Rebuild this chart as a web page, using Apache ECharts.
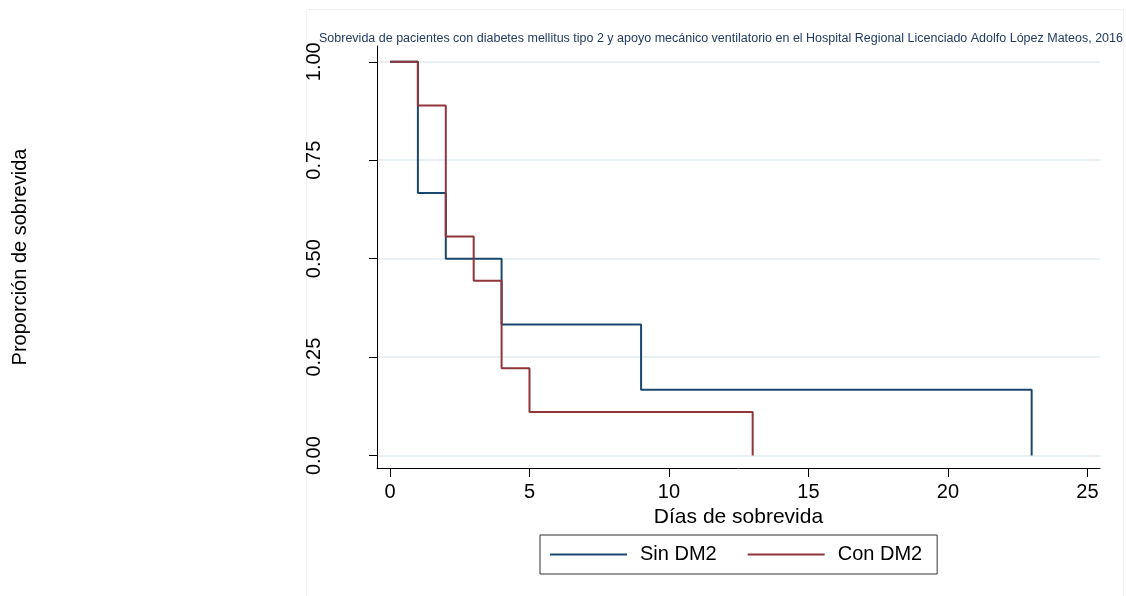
<!DOCTYPE html>
<html>
<head>
<meta charset="utf-8">
<script src="https://cdn.jsdelivr.net/npm/echarts@6/dist/echarts.min.js"></script>
<style>
html,body{margin:0;padding:0;background:#fff;}
#chart{width:1126px;height:596px;}
</style>
</head>
<body>
<div id="chart"></div>
<script>
// Data (Kaplan-Meier step points: [day, survival proportion])
const sinDays = [0, 1, 2, 4, 9, 23];
const sinSurv = [1.0, 0.667, 0.5, 0.333, 0.167, 0.0];
const conDays = [0, 1, 2, 3, 4, 5, 13];
const conSurv = [1.0, 0.889, 0.556, 0.444, 0.222, 0.111, 0.0];
const xTicks = [0, 5, 10, 15, 20, 25];
const yTicks = [0, 0.25, 0.5, 0.75, 1];
const seriesNames = ['Sin DM2', 'Con DM2'];
const titleText = 'Sobrevida de pacientes con diabetes mellitus tipo 2 y apoyo mecánico ventilatorio en el Hospital Regional Licenciado Adolfo López Mateos, 2016';

const FONT = 'Liberation Sans, Arial, sans-serif';
const chart = echarts.init(document.getElementById('chart'), null, {renderer: 'canvas'});

const pairs = (xs, ys) => xs.map((x, i) => [x, ys[i]]);

chart.setOption({
  animation: false,
  backgroundColor: '#fff',
  textStyle: {fontFamily: FONT},
  graphic: [{
    type: 'rect', left: 304, top: 7, z: -10, silent: true,
    shape: {width: 817, height: 600},
    style: {fill: 'none', stroke: '#f2f2f2', lineWidth: 1}
  }],
  title: {
    text: titleText,
    left: 319, top: 32, padding: 0,
    textStyle: {fontSize: 12.5, fontWeight: 'normal', color: '#223a66', fontFamily: FONT}
  },
  grid: {left: 377, right: 26, top: 46, bottom: 128, containLabel: false},
  legend: {
    data: seriesNames,
    left: 540, top: 535,
    orient: 'horizontal',
    padding: [9, 15, 9, 10],
    borderColor: '#333', borderWidth: 1, borderRadius: 0,
    backgroundColor: '#fff',
    icon: 'path://M0,0H77V2H0Z',
    itemWidth: 77, itemHeight: 2, itemGap: 31,
    textStyle: {fontSize: 20, color: '#000', fontFamily: FONT, lineHeight: 21, padding: [0, 0, 0, 8]}
  },
  xAxis: {
    type: 'value',
    min: -0.466, max: 25.45,
    name: 'Días de sobrevida',
    nameLocation: 'middle',
    nameGap: 35,
    nameTextStyle: {fontSize: 21, color: '#000', fontFamily: FONT},
    axisLine: {show: true, onZero: false, lineStyle: {color: '#000', width: 1}},
    axisTick: {show: true, length: 9, customValues: xTicks, lineStyle: {color: '#000', width: 1}},
    axisLabel: {show: true, customValues: xTicks, margin: 14, fontSize: 20, color: '#000', fontFamily: FONT},
    splitLine: {show: false}
  },
  yAxis: {
    type: 'value',
    min: -0.0315, max: 1.04,
    name: 'Proporción de sobrevida',
    nameLocation: 'middle',
    nameRotate: 90,
    nameGap: 347,
    nameTextStyle: {fontSize: 20, color: '#000', fontFamily: FONT},
    axisLine: {show: true, onZero: false, lineStyle: {color: '#000', width: 1}},
    axisTick: {show: true, length: 8, customValues: yTicks, lineStyle: {color: '#000', width: 1}},
    axisLabel: {show: true, customValues: yTicks, rotate: 90, margin: 53, fontSize: 20, color: '#000', fontFamily: FONT,
      formatter: v => v.toFixed(2)},
    splitLine: {show: true, lineStyle: {color: '#e9f0f3', width: 2}}
  },
  series: [
    {
      name: seriesNames[0], type: 'line', step: 'end', symbol: 'none',
      data: pairs(sinDays, sinSurv),
      lineStyle: {color: '#1a476f', width: 2},
      itemStyle: {color: '#1a476f'}
    },
    {
      name: seriesNames[1], type: 'line', step: 'end', symbol: 'none',
      data: pairs(conDays, conSurv),
      lineStyle: {color: '#90353b', width: 2},
      itemStyle: {color: '#90353b'}
    }
  ]
});
</script>
</body>
</html>
